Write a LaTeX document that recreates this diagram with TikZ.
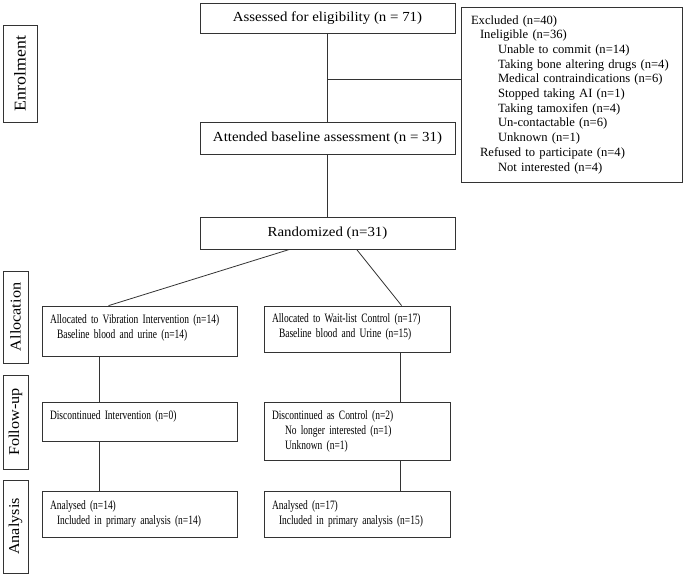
\documentclass[tikz,border=0pt]{standalone}
\usepackage{fontspec}
\setmainfont{Liberation Serif}
\newfontfamily\camfont[FakeStretch=1.08]{Liberation Serif}
\newfontfamily\condfont[FakeStretch=0.74]{Liberation Serif}
\usetikzlibrary{calc}
\begin{document}
\begin{tikzpicture}[x=1pt,y=-1pt,line width=0.8pt,
  lab/.style={draw=black!80,rotate=90,inner sep=0pt,font=\camfont\fontsize{15}{18}\selectfont},
  mainbox/.style={draw=black!80,minimum width=255,inner sep=0pt,font=\camfont\fontsize{13.8}{16}\selectfont},
  armbox/.style={draw=black!80,inner xsep=8pt,inner ysep=0pt,align=left,font=\condfont\fontsize{12.8}{15}\selectfont},
  excbox/.style={draw=black!80,inner xsep=10pt,inner ysep=0pt,align=left,font=\fontsize{12.6}{14.7}\selectfont},
  conn/.style={draw=black!80,line width=0.8pt}]
\useasboundingbox (0,0) rectangle (684,575);
% stage labels
\node[lab,minimum width=97,minimum height=34,font=\camfont\fontsize{16.5}{20}\selectfont] (enrol) at (20,73.5) {Enrolment};
\node[lab,minimum width=92,minimum height=25] (alloc) at (15.5,317) {Allocation};
\node[lab,minimum width=94,minimum height=25] (follow) at (15.5,422) {Follow-up};
\node[lab,minimum width=93,minimum height=25] (analysis) at (15.5,526.5) {Analysis};
% enrolment boxes
\node[mainbox,minimum height=30] (assessed) at (327.5,18) {Assessed for eligibility (n = 71)};
\node[mainbox,minimum height=32] (attended) at (327.5,138) {Attended baseline assessment (n = 31)};
\node[mainbox,minimum height=32] (randomized) at (327.5,233) {Randomized (n=31)};
\node[excbox,text width=201,minimum height=175] (excluded) at (571.5,94.5) {Excluded (n=40)\\
\hspace*{9pt}Ineligible (n=36)\\
\hspace*{27pt}Unable to commit (n=14)\\
\hspace*{27pt}Taking bone altering drugs (n=4)\\
\hspace*{27pt}Medical contraindications (n=6)\\
\hspace*{27pt}Stopped taking AI (n=1)\\
\hspace*{27pt}Taking tamoxifen (n=4)\\
\hspace*{27pt}Un-contactable (n=6)\\
\hspace*{27pt}Unknown (n=1)\\
\hspace*{9pt}Refused to participate (n=4)\\
\hspace*{27pt}Not interested (n=4)};
% arm boxes
\node[armbox,text width=179,minimum height=50] (allocL) at (139.5,331) {Allocated to Vibration Intervention (n=14)\\\hspace*{7pt}Baseline blood and urine (n=14)\\[-6pt]\mbox{}};
\node[armbox,text width=170,minimum height=46] (allocR) at (357,329) {Allocated to Wait-list Control (n=17)\\\hspace*{7pt}Baseline blood and Urine (n=15)\\[-9pt]\mbox{}};
\node[armbox,text width=179,minimum height=39] (discL) at (139.5,421.5) {Discontinued Intervention (n=0)\\[-3pt]\mbox{}};
\node[armbox,text width=170,minimum height=58] (discR) at (357,431) {Discontinued as Control (n=2)\\\hspace*{13pt}No longer interested (n=1)\\\hspace*{13pt}Unknown (n=1)};
\node[armbox,text width=179,minimum height=46] (anaL) at (139.5,514) {Analysed (n=14)\\\hspace*{7pt}Included in primary analysis (n=14)};
\node[armbox,text width=170,minimum height=46] (anaR) at (357,514) {Analysed (n=17)\\\hspace*{7pt}Included in primary analysis (n=15)};
% connectors
\coordinate (branch) at ($(assessed.south)!0.52!(attended.north)$);
\draw[conn] (assessed) -- (attended);
\draw[conn] (branch) -- (branch -| excluded.west);
\draw[conn] (attended) -- (randomized);
\draw[conn] ($(randomized.south west)+(90,0)$) -- ($(allocL.north west)+(67,0)$);
\draw[conn] ($(randomized.south west)+(157,0)$) -- ($(allocR.north west)+(138,0)$);
\draw[conn] ($(allocL.south west)+(58,0)$) -- ($(discL.north west)+(58,0)$);
\draw[conn] ($(discL.south west)+(58,0)$) -- ($(anaL.north west)+(58,0)$);
\draw[conn] ($(allocR.south west)+(137,0)$) -- ($(discR.north west)+(137,0)$);
\draw[conn] ($(discR.south west)+(137,0)$) -- ($(anaR.north west)+(137,0)$);
\end{tikzpicture}
\end{document}
